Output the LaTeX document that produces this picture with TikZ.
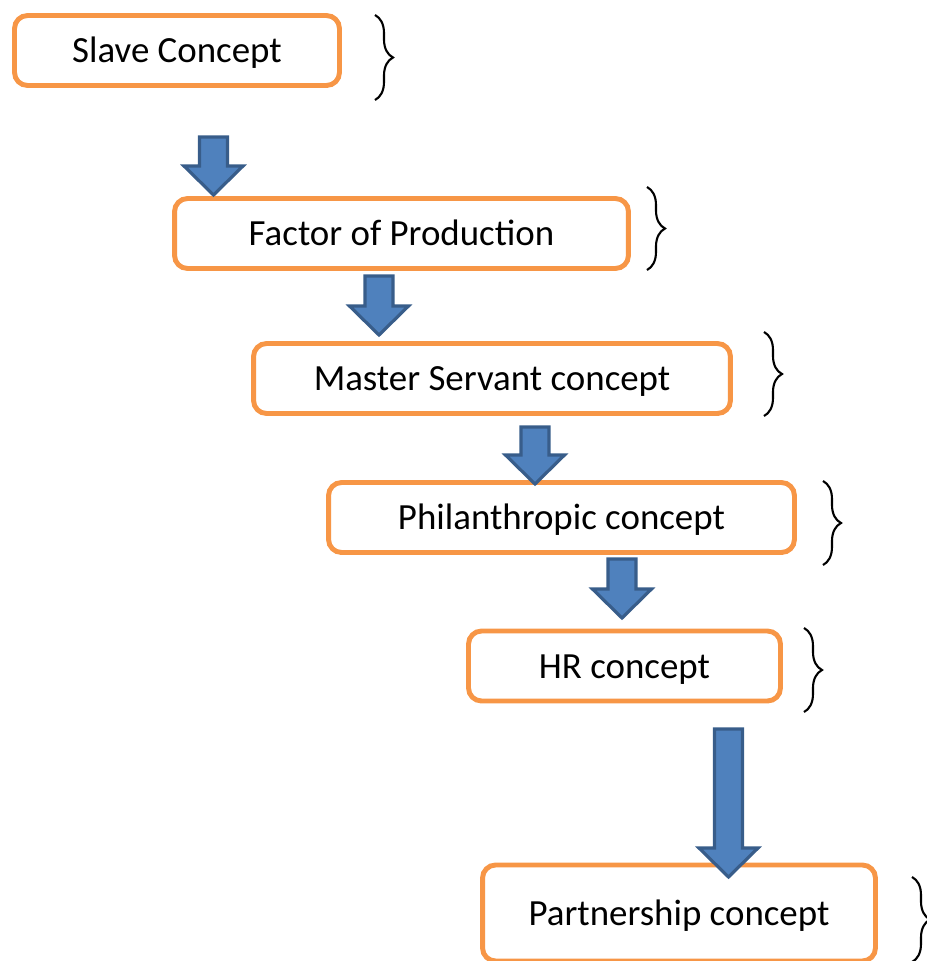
\documentclass[tikz,border=0pt]{standalone}
\usepackage{fontspec}
\setmainfont{Carlito}
\usetikzlibrary{calc,decorations.pathreplacing}

\definecolor{boxorange}{HTML}{F79646}
\definecolor{arrowfill}{HTML}{4F81BD}
\definecolor{arrowline}{HTML}{385D8A}

% block arrow from the top point #1 to the tip #2
\newcommand\blockarrow[2]{%
  \draw[block arrow] let \p1=(#1), \p2=(#2) in
    (\x1-8pt,\y1) -- (\x1+8pt,\y1) -- (\x1+8pt,\y2+16.5pt)
    -- (\x1+16.8pt,\y2+16.5pt) -- (\x1,\y2) -- (\x1-16.8pt,\y2+16.5pt)
    -- (\x1-8pt,\y2+16.5pt) -- cycle;}

\begin{document}
\begin{tikzpicture}[x=0.02cm, y=-0.02cm,
        concept box/.style={rectangle, rounded corners=0.26cm, draw=boxorange,
          line width=2.8pt, fill=white, minimum height=1.4cm,
          text height=15pt, text depth=1pt,
          font=\fontsize{21}{25}\selectfont},
        block arrow/.style={fill=arrowfill, draw=arrowline, line width=1.8pt,
          line join=miter},
        side brace/.style={decorate, decoration={brace, amplitude=0.36cm},
          line width=1.2pt}]
    \useasboundingbox (0,0) rectangle (927,961);

    % Boxes
    \node[concept box, minimum width=6.5cm] (slave) at (177,50.5) {Slave Concept};
    \node[concept box, minimum width=9.08cm] (factor) at (401.5,233.5) {Factor of Production};
    \node[concept box, minimum width=9.54cm] (master) at (492,378.5) {Master Servant concept};
    \node[concept box, minimum width=9.32cm] (phil) at (561.5,517.5) {Philanthropic concept};
    \node[concept box, minimum width=6.24cm] (hr) at (624.5,666) {HR concept};
    \node[concept box, minimum width=7.86cm, minimum height=1.92cm] (partner) at (679,913) {Partnership concept};

    % Arrows
    \coordinate (a1) at (213.5,137);  \coordinate (b1) at (213.5,195);
    \coordinate (a2) at (379,276);    \coordinate (b2) at (379,335);
    \coordinate (a3) at (535,427);    \coordinate (b3) at (535,484);
    \coordinate (a4) at (622,559);    \coordinate (b4) at (622,618);
    \coordinate (a5) at (728.5,729);  \coordinate (b5) at (728.5,877);
    \blockarrow{a1}{b1}
    \blockarrow{a2}{b2}
    \blockarrow{a3}{b3}
    \blockarrow{a4}{b4}
    \blockarrow{a5}{b5}

    % Braces
    \draw[side brace] (375,15) -- (375,100);
    \draw[side brace] (647,187) -- (647,270);
    \draw[side brace] (764,332) -- (764,416);
    \draw[side brace] (823,481) -- (823,565);
    \draw[side brace] (804,628) -- (804,712);
    \draw[side brace] (912,877) -- (912,962);
\end{tikzpicture}
\end{document}
